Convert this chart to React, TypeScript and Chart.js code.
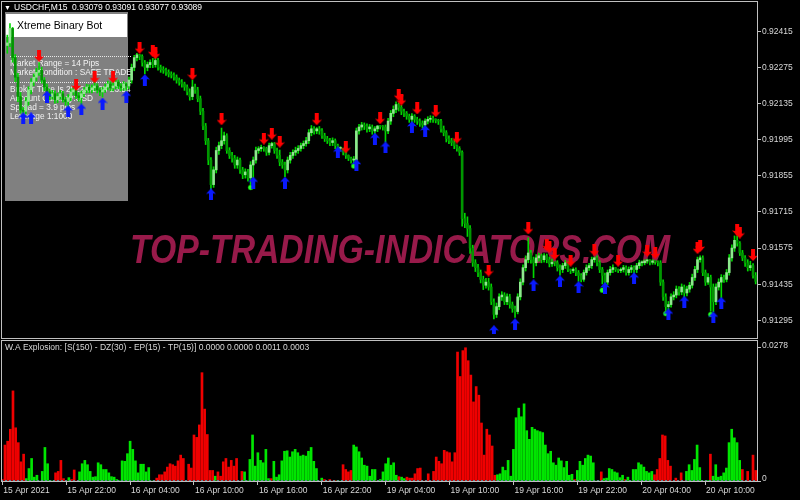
import { useEffect, useRef } from 'react';
import { Chart, registerables } from 'chart.js';

Chart.register(...registerables);

// Prices are stored in points (0.00001) above PRICE_BASE.
const PRICE_BASE = 0.91;
const POINT = 0.00001;
const firstOpen = 1360;

const closes = [
  1370, 1426, 1313, 1237, 1162, 1110, 1105, 1143, 1188, 1218,
  1237, 1256, 1264, 1226, 1199, 1180, 1162, 1173, 1150, 1162,
  1173, 1150, 1143, 1158, 1180, 1188, 1165, 1158, 1173, 1188,
  1199, 1188, 1196, 1203, 1188, 1180, 1188, 1199, 1211, 1196,
  1203, 1218, 1203, 1196, 1211, 1203, 1226, 1275, 1313, 1324,
  1318, 1294, 1275, 1286, 1294, 1286, 1302, 1275, 1267, 1264,
  1256, 1249, 1245, 1237, 1226, 1218, 1211, 1199, 1180, 1162,
  1199, 1188, 1154, 1105, 1048, 991, 916, 821, 878, 953,
  972, 991, 1010, 953, 934, 923, 897, 916, 878, 859,
  870, 847, 897, 916, 953, 960, 965, 961, 946, 972,
  980, 953, 934, 908, 897, 878, 916, 934, 946, 953,
  961, 972, 980, 991, 1022, 1037, 1029, 1037, 1029, 1010,
  999, 991, 984, 991, 972, 961, 961, 946, 934, 923,
  916, 916, 1029, 1044, 1052, 1048, 1037, 1044, 1029, 1037,
  1048, 1046, 1044, 1029, 1067, 1097, 1112, 1131, 1120, 1105,
  1097, 1086, 1074, 1086, 1074, 1067, 1059, 1052, 1067, 1074,
  1078, 1074, 1070, 1067, 1037, 1022, 999, 991, 984, 972,
  961, 946, 689, 670, 651, 575, 518, 499, 480, 454,
  431, 443, 424, 367, 318, 348, 386, 393, 367, 386,
  356, 340, 329, 386, 443, 499, 530, 556, 530, 518,
  537, 545, 530, 545, 530, 514, 520, 518, 499, 492,
  507, 518, 492, 488, 492, 480, 469, 454, 480, 499,
  507, 530, 537, 518, 492, 469, 443, 480, 492, 499,
  492, 488, 492, 499, 480, 492, 499, 492, 507, 518,
  518, 525, 528, 520, 525, 522, 518, 443, 386, 348,
  356, 386, 393, 416, 405, 424, 401, 416, 431, 461,
  492, 530, 537, 480, 443, 461, 424, 367, 424, 443,
  461, 454, 480, 537, 575, 605, 594, 556, 537, 518,
  499, 507, 469, 446,
];

const highs = [
  1400, 1445, 1430, 1325, 1252, 1178, 1120, 1158, 1200, 1232,
  1250, 1272, 1294, 1276, 1236, 1210, 1192, 1186, 1184, 1176,
  1186, 1182, 1160, 1170, 1192, 1200, 1196, 1178, 1184, 1198,
  1210, 1208, 1208, 1218, 1212, 1196, 1198, 1210, 1222, 1219,
  1220, 1228, 1226, 1212, 1220, 1216, 1238, 1288, 1322, 1330,
  1326, 1324, 1302, 1296, 1304, 1310, 1318, 1310, 1284, 1278,
  1272, 1266, 1258, 1254, 1246, 1234, 1228, 1218, 1208, 1192,
  1226, 1210, 1198, 1164, 1116, 1058, 1000, 926, 890, 966,
  986, 1040, 1024, 1018, 964, 946, 934, 928, 924, 888,
  882, 880, 910, 928, 966, 968, 974, 968, 966, 982,
  985, 984, 962, 955, 918, 908, 928, 946, 956, 966,
  972, 982, 990, 1004, 1034, 1050, 1046, 1042, 1046, 1038,
  1020, 1008, 1000, 1002, 998, 978, 968, 962, 948, 936,
  928, 930, 1040, 1054, 1062, 1060, 1056, 1054, 1052, 1046,
  1050, 1050, 1050, 1052, 1078, 1108, 1126, 1142, 1138, 1128,
  1114, 1104, 1094, 1096, 1092, 1082, 1076, 1068, 1076, 1084,
  1088, 1086, 1076, 1074, 1074, 1048, 1030, 1010, 1000, 992,
  975, 968, 952, 710, 696, 662, 586, 530, 512, 490,
  466, 458, 458, 436, 378, 362, 398, 406, 402, 398,
  396, 366, 350, 398, 456, 510, 545, 615, 566, 540,
  550, 556, 552, 554, 552, 540, 532, 522, 526, 510,
  516, 528, 524, 494, 498, 498, 488, 476, 490, 510,
  516, 540, 540, 545, 526, 500, 478, 490, 504, 510,
  500, 494, 498, 508, 506, 502, 508, 506, 516, 528,
  526, 530, 532, 530, 530, 526, 526, 526, 452, 398,
  368, 398, 406, 428, 426, 436, 432, 428, 442, 474,
  504, 540, 545, 545, 490, 476, 470, 436, 436, 456,
  472, 470, 492, 550, 588, 622, 622, 600, 566, 546,
  530, 524, 515, 480,
];

const lows = [
  1330, 1355, 1295, 1220, 1142, 1098, 1095, 1094, 1128, 1172,
  1204, 1222, 1244, 1214, 1184, 1168, 1148, 1152, 1136, 1138,
  1152, 1140, 1128, 1120, 1146, 1168, 1154, 1144, 1130, 1162,
  1176, 1176, 1176, 1184, 1176, 1166, 1160, 1178, 1188, 1184,
  1184, 1192, 1192, 1184, 1186, 1186, 1192, 1214, 1262, 1300,
  1305, 1280, 1250, 1262, 1274, 1274, 1276, 1264, 1256, 1252,
  1244, 1238, 1234, 1226, 1214, 1206, 1198, 1186, 1168, 1148,
  1150, 1174, 1142, 1092, 1034, 976, 898, 800, 810, 866,
  938, 960, 978, 942, 922, 908, 884, 884, 864, 844,
  846, 834, 820, 846, 904, 942, 950, 950, 934, 936,
  962, 942, 922, 894, 884, 852, 866, 904, 922, 934,
  942, 950, 960, 970, 980, 1010, 1016, 1018, 1016, 1000,
  988, 980, 972, 972, 960, 950, 950, 936, 922, 914,
  904, 900, 906, 1016, 1032, 1034, 1024, 1026, 1016, 1010,
  1026, 1036, 1032, 985, 1018, 1054, 1084, 1100, 1106, 1092,
  1084, 1074, 1062, 1056, 1062, 1054, 1046, 1040, 1045, 1056,
  1062, 1062, 1060, 1054, 1024, 1010, 986, 980, 972, 960,
  950, 934, 660, 654, 620, 554, 504, 484, 464, 440,
  414, 420, 412, 356, 300, 306, 336, 372, 356, 356,
  342, 326, 306, 320, 374, 432, 486, 518, 516, 460,
  506, 524, 518, 520, 518, 502, 504, 506, 486, 470,
  480, 496, 484, 476, 480, 468, 446, 444, 446, 470,
  488, 496, 520, 506, 480, 436, 426, 434, 470, 480,
  484, 480, 480, 482, 470, 470, 480, 466, 480, 496,
  506, 510, 516, 510, 512, 512, 506, 430, 372, 318,
  326, 346, 374, 382, 392, 394, 376, 390, 404, 420,
  450, 480, 520, 468, 430, 434, 330, 328, 356, 412,
  382, 442, 444, 470, 524, 562, 582, 546, 526, 504,
  486, 488, 458, 436,
];

// [bar index, price in points]
const sellArrows: [number, number][] = [
  [12, 1320], [26, 1207], [33, 1237], [40, 1237], [50, 1351], [55, 1338], [56, 1330],
  [70, 1249], [81, 1074], [97, 999], [100, 1018], [103, 987], [117, 1074], [128, 965],
  [141, 1078], [148, 1169], [149, 1150], [155, 1116], [162, 1105], [170, 1003], [182, 488],
  [197, 651], [204, 586], [205, 578], [207, 552], [213, 526], [222, 567], [231, 526],
  [242, 564], [245, 556], [261, 575], [262, 583], [276, 645], [277, 635], [282, 548],
];
const buyArrows: [number, number][] = [
  [6, 1078], [9, 1078], [15, 1162], [23, 1105], [28, 1112], [36, 1135], [45, 1162],
  [52, 1226], [77, 783], [93, 829], [105, 829], [125, 946], [132, 897], [139, 999],
  [143, 965], [153, 1044], [158, 1029], [184, 253], [192, 280], [199, 431], [209, 446],
  [216, 424], [226, 420], [237, 458], [250, 318], [256, 367], [267, 306], [270, 363],
];
const signalDots: [number, number][] = [
  [92, 810], [131, 893], [225, 412], [249, 321], [266, 318],
];

const histValues = [
  0.0003, 0.0075, 0.0083, 0.0108, 0.0188, 0.0111, 0.0080, 0.0040, 0.0056, 0.0005,
  0.0026, 0.0047, 0.0008, 0.0012, 0, 0.0020, 0.0070, 0.0036, 0.0001, 0,
  0.0017, 0.0020, 0.0043, 0.0005, 0, 0.0007, 0.0003, 0.0023, 0, 0.0019,
  0.0036, 0.0043, 0.0034, 0.0020, 0.0008, 0.0009, 0.0038, 0.0034, 0.0024, 0.0024,
  0.0017, 0.0009, 0.0008, 0.0003, 0.0001, 0.0042, 0.0041, 0.0057, 0.0083, 0.0066,
  0.0042, 0.0017, 0.0035, 0.0035, 0.0019, 0.0028, 0, 0.0001, 0.0006, 0.0013,
  0.0013, 0.0019, 0.0029, 0.0036, 0.0034, 0.0031, 0.0042, 0.0054, 0.0047, 0,
  0.0035, 0.0027, 0.0096, 0.0091, 0.0117, 0.0226, 0.0150, 0.0097, 0.0022, 0.0022,
  0.0010, 0.0019, 0.0010, 0.0040, 0.0047, 0.0029, 0.0043, 0.0031, 0.0047, 0,
  0.0020, 0.0019, 0.0001, 0.0045, 0.0096, 0.0031, 0.0059, 0.0043, 0.0038, 0.0066,
  0.0005, 0.0005, 0.0041, 0.0008, 0.0013, 0.0042, 0.0062, 0.0063, 0.0050, 0.0061,
  0.0066, 0.0059, 0.0052, 0.0054, 0.0052, 0.0062, 0.0070, 0.0041, 0.0026, 0,
  0.0006, 0.0003, 0, 0.0003, 0, 0.0001, 0.0001, 0, 0.0034, 0.0024,
  0.0019, 0.0022, 0.0075, 0.0071, 0.0061, 0.0048, 0.0033, 0.0031, 0.0010, 0.0024,
  0.0024, 0, 0.0003, 0.0019, 0.0036, 0.0048, 0.0033, 0.0038, 0.0012, 0.0009,
  0.0008, 0.0005, 0.0008, 0.0006, 0.0006, 0.0015, 0.0026, 0.0027, 0, 0,
  0.0015, 0, 0.0020, 0.0050, 0.0041, 0.0036, 0.0064, 0.0061, 0.0059, 0.0040,
  0.0059, 0.0269, 0.0218, 0.0272, 0.0278, 0.0251, 0.0221, 0.0165, 0.0197, 0.0179,
  0.0121, 0.0054, 0.0108, 0.0096, 0.0073, 0.0012, 0.0013, 0.0015, 0.0029, 0.0022,
  0.0043, 0.0010, 0.0066, 0.0132, 0.0152, 0.0134, 0.0161, 0.0105, 0.0087, 0.0112,
  0.0108, 0.0105, 0.0103, 0.0101, 0.0075, 0.0057, 0.0062, 0.0038, 0.0033, 0.0048,
  0.0042, 0.0028, 0.0041, 0.0012, 0.0014, 0.0003, 0.0022, 0.0041, 0.0033, 0.0047,
  0.0054, 0.0052, 0.0038, 0, 0, 0.0019, 0.0005, 0.0006, 0.0026, 0.0024,
  0.0019, 0.0017, 0.0007, 0.0012, 0.0003, 0.0008, 0, 0.0024, 0.0024, 0.0038,
  0.0034, 0.0029, 0.0020, 0.0017, 0.0020, 0.0013, 0.0024, 0.0047, 0.0096, 0.0094,
  0.0043, 0.0031, 0, 0.0006, 0, 0.0017, 0, 0.0020, 0.0034, 0.0022,
  0.0045, 0.0075, 0.0028, 0, 0, 0.0001, 0.0056, 0.0010, 0.0034, 0.0008,
  0.0010, 0.0017, 0.0027, 0.0080, 0.0108, 0.0090, 0.0080, 0.0043, 0.0024, 0,
  0.0020, 0, 0.0054, 0.0022,
];
// r = falling (red) bar, g = rising (green) bar
const histDirection =
  'rrrrrrrrrg' + 'gggggggggg' + 'rrrrrgrrrg' + 'gggggggggg' + 'gggggggggg' +
  'ggggggggrr' + 'rrrrrrrrrr' + 'rrrrrrrrrr' + 'grrrrrrrrr' + 'rggggggggg' +
  'grgggggggg' + 'gggggggggg' + 'grrrrrggrr' + 'rrgggggggg' + 'grgggggggr' +
  'ggrrrrrrrr' + 'rrrrrrrrrr' + 'rrrrrrrrrr' + 'rrrrrrgggg' + 'gggggggggg' +
  'gggggggggg' + 'gggggrgggg' + 'gggggrgggg' + 'ggggrggggg' + 'gggggrrrrr' +
  'rrrrrrrggg' + 'ggggggrggg' + 'ggggggggrr' + 'rrrr';
const deadZoneLevel = 0.0003;

const priceTicks = [0.91295, 0.91435, 0.91575, 0.91715, 0.91855, 0.91995, 0.92135, 0.92275, 0.92415];
const priceAxisLow = 242;
const priceAxisHigh = 1513;
const histTicks = [0, 0.0278];
const histAxisMax = 0.029;
const timeTickLabels = [
  '15 Apr 2021', '15 Apr 22:00', '16 Apr 04:00', '16 Apr 10:00', '16 Apr 16:00', '16 Apr 22:00',
  '19 Apr 04:00', '19 Apr 10:00', '19 Apr 16:00', '19 Apr 22:00', '20 Apr 04:00', '20 Apr 10:00',
];
const BARS_PER_TIME_LABEL = 24;

const symbolHeader = 'USDCHF,M15  0.93079 0.93091 0.93077 0.93089';
const indicatorHeader = 'W.A Explosion: [S(150) - DZ(30) - EP(15) - TP(15)] 0.0000 0.0000 0.0011 0.0003';
const panelTitle = 'Xtreme Binary Bot';
const panelLinesA = ['Market Range = 14 Pips', 'Market Condition : SAFE TRADE'];
const panelLinesB = ['Broker Time Is 2022.01.28 23:54', 'Account Curency:USD', 'Spread = 3.9 pips', 'Leverage 1:1000'];
const watermark = 'TOP-TRADING-INDICATORS.COM';

const toPrice = (p: number) => +(PRICE_BASE + p * POINT).toFixed(5);

const FONT = "'Liberation Sans', Arial, sans-serif";
const AXIS_COLOR = '#c0c0c0';
const LABEL_COLOR = '#d8d8d8';
const WICK = '#00d800';
const BULL = '#8ee88e';
const BEAR = '#009600';
const HIST_RED = '#f00000';
const HIST_GREEN = '#00e600';

function makeArrow(color: string, down: boolean) {
  const c = document.createElement('canvas');
  c.width = 10;
  c.height = 12;
  const g = c.getContext('2d')!;
  if (down) {
    g.translate(0, 12);
    g.scale(1, -1);
  }
  g.fillStyle = color;
  g.beginPath();
  g.moveTo(5, 0);
  g.lineTo(10, 5.5);
  g.lineTo(7, 5);
  g.lineTo(7, 12);
  g.lineTo(3, 12);
  g.lineTo(3, 5);
  g.lineTo(0, 5.5);
  g.closePath();
  g.fill();
  return c;
}

export default function App() {
  const topRef = useRef<HTMLCanvasElement>(null);
  const botRef = useRef<HTMLCanvasElement>(null);

  useEffect(() => {
    const N = closes.length;
    const opens = closes.map((c, i) => (i === 0 ? firstOpen : closes[i - 1]));
    const downImg = makeArrow('#ff0000', true);
    const upImg = makeArrow('#0a1aff', false);

    const topPlugin = {
      id: 'mt4top',
      beforeDatasetsDraw(chart: any) {
        const ctx = chart.ctx as CanvasRenderingContext2D;
        ctx.save();
        // info panel
        ctx.fillStyle = '#808080';
        ctx.fillRect(5, 12, 123, 189);
        ctx.fillStyle = '#ffffff';
        ctx.fillRect(6, 14, 121, 23);
        ctx.fillStyle = '#000000';
        ctx.font = `10.5px ${FONT}`;
        ctx.textBaseline = 'middle';
        ctx.fillText(panelTitle, 17, 26);
        ctx.strokeStyle = '#e8e8e8';
        ctx.setLineDash([1, 1]);
        ctx.lineWidth = 1;
        ctx.beginPath();
        ctx.moveTo(10, 56.5);
        ctx.lineTo(132, 56.5);
        ctx.moveTo(10, 82.5);
        ctx.lineTo(132, 82.5);
        ctx.stroke();
        ctx.setLineDash([]);
        ctx.fillStyle = '#f2f2f2';
        ctx.font = `8.3px ${FONT}`;
        panelLinesA.forEach((t, k) => ctx.fillText(t, 10, 63.5 + k * 8.8));
        panelLinesB.forEach((t, k) => ctx.fillText(t, 10, 90 + k * 8.9));
        // watermark
        ctx.font = `italic bold 41px ${FONT}`;
        const w = ctx.measureText(watermark).width;
        ctx.translate(130, 263);
        ctx.scale(540 / w, 1);
        ctx.fillStyle = 'rgba(165, 28, 80, 0.92)';
        ctx.textBaseline = 'alphabetic';
        ctx.fillText(watermark, 0, 0);
        ctx.restore();
      },
      afterDraw(chart: any) {
        const ctx = chart.ctx as CanvasRenderingContext2D;
        ctx.save();
        ctx.strokeStyle = AXIS_COLOR;
        ctx.lineWidth = 1;
        ctx.strokeRect(1.5, 1.5, 756, 337);
        ctx.fillStyle = '#ffffff';
        ctx.font = `7px ${FONT}`;
        ctx.textBaseline = 'middle';
        ctx.fillText('\u25BC', 4, 8);
        ctx.font = `8.5px ${FONT}`;
        ctx.fillText(symbolHeader, 14, 8);
        ctx.restore();
      },
    };

    const botPlugin = {
      id: 'mt4bot',
      afterDatasetsDraw(chart: any) {
        const ctx = chart.ctx as CanvasRenderingContext2D;
        const y = Math.round(chart.scales.y.getPixelForValue(deadZoneLevel)) + 0.5;
        ctx.save();
        ctx.strokeStyle = '#5a8896';
        ctx.setLineDash([2, 2]);
        ctx.beginPath();
        ctx.moveTo(chart.chartArea.left, y);
        ctx.lineTo(chart.chartArea.right, y);
        ctx.stroke();
        ctx.restore();
      },
      afterDraw(chart: any) {
        const ctx = chart.ctx as CanvasRenderingContext2D;
        ctx.save();
        ctx.strokeStyle = AXIS_COLOR;
        ctx.lineWidth = 1;
        ctx.strokeRect(1.5, 0.5, 756, 141);
        ctx.fillStyle = '#d8d8d8';
        ctx.font = `8.5px ${FONT}`;
        ctx.textBaseline = 'middle';
        ctx.fillText(indicatorHeader, 5, 8);
        ctx.restore();
      },
    };

    const tickFont = { family: FONT, size: 8.5 };

    const top = new Chart(topRef.current!, {
      type: 'bar',
      data: {
        datasets: [
          {
            type: 'line',
            data: sellArrows.map(([i, p]) => ({ x: i, y: toPrice(p) })),
            showLine: false,
            pointStyle: downImg,
            pointRadius: 5,
            order: 0,
          } as any,
          {
            type: 'line',
            data: buyArrows.map(([i, p]) => ({ x: i, y: toPrice(p) })),
            showLine: false,
            pointStyle: upImg,
            pointRadius: 5,
            order: 0,
          } as any,
          {
            type: 'line',
            data: signalDots.map(([i, p]) => ({ x: i, y: toPrice(p) })),
            showLine: false,
            pointStyle: 'circle',
            pointRadius: 2.5,
            pointBackgroundColor: '#22ff22',
            pointBorderColor: '#00a000',
            pointBorderWidth: 0.5,
            order: 0,
          } as any,
          {
            type: 'bar',
            data: opens.map((o, i) => ({ x: i, y: [toPrice(o), toPrice(closes[i])] })),
            backgroundColor: opens.map((o, i) => (closes[i] >= o ? BULL : BEAR)),
            barThickness: 2,
            minBarLength: 1,
            grouped: false,
            order: 1,
          } as any,
          {
            type: 'bar',
            data: lows.map((l, i) => ({ x: i, y: [toPrice(l), toPrice(highs[i])] })),
            backgroundColor: WICK,
            barThickness: 1,
            grouped: false,
            order: 2,
          } as any,
        ],
      },
      options: {
        responsive: false,
        animation: false,
        events: [],
        devicePixelRatio: 1,
        layout: { padding: { left: 1, top: 2, right: 0, bottom: 2 } },
        plugins: { legend: { display: false }, tooltip: { enabled: false } },
        scales: {
          x: { type: 'linear', min: -0.5, max: N - 0.5, display: false, offset: false },
          y: {
            position: 'right',
            min: toPrice(priceAxisLow),
            max: toPrice(priceAxisHigh),
            afterBuildTicks: (s: any) => {
              s.ticks = priceTicks.map((v) => ({ value: v }));
            },
            afterFit: (s: any) => {
              s.width = 43;
              s.paddingTop = 0;
              s.paddingBottom = 0;
            },
            grid: { drawOnChartArea: false, drawTicks: true, tickLength: 4, color: AXIS_COLOR },
            border: { display: false },
            ticks: {
              color: LABEL_COLOR,
              font: tickFont,
              padding: 1,
              autoSkip: false,
              callback: (v: any) => Number(v).toFixed(5),
            },
          },
        },
      } as any,
      plugins: [topPlugin],
    });

    const bot = new Chart(botRef.current!, {
      type: 'bar',
      data: {
        datasets: [
          {
            data: histValues.map((v, i) => ({ x: i, y: v })),
            backgroundColor: histDirection.split('').map((d) => (d === 'r' ? HIST_RED : HIST_GREEN)),
            barThickness: 2,
            grouped: false,
          } as any,
        ],
      },
      options: {
        responsive: false,
        animation: false,
        events: [],
        devicePixelRatio: 1,
        layout: { padding: { left: 1, top: 2, right: 0, bottom: 0 } },
        plugins: { legend: { display: false }, tooltip: { enabled: false } },
        scales: {
          x: {
            type: 'linear',
            min: -0.5,
            max: N - 0.5,
            offset: false,
            afterBuildTicks: (s: any) => {
              s.ticks = timeTickLabels.map((_, k) => ({ value: k * BARS_PER_TIME_LABEL }));
            },
            afterFit: (s: any) => {
              s.height = 19;
              s.paddingLeft = 0;
              s.paddingRight = 0;
            },
            grid: { drawOnChartArea: false, drawTicks: true, tickLength: 4, color: AXIS_COLOR, offset: false },
            border: { display: false },
            ticks: {
              align: 'start',
              maxRotation: 0,
              autoSkip: false,
              color: LABEL_COLOR,
              font: tickFont,
              padding: 1,
              labelOffset: 1,
              callback: (v: any) => timeTickLabels[Math.round(Number(v) / BARS_PER_TIME_LABEL)],
            },
          },
          y: {
            position: 'right',
            min: 0,
            max: histAxisMax,
            afterBuildTicks: (s: any) => {
              s.ticks = histTicks.map((v) => ({ value: v }));
            },
            afterFit: (s: any) => {
              s.width = 43;
              s.paddingTop = 0;
              s.paddingBottom = 0;
            },
            grid: { drawOnChartArea: false, drawTicks: true, tickLength: 4, color: AXIS_COLOR },
            border: { display: false },
            ticks: {
              color: LABEL_COLOR,
              font: tickFont,
              padding: 1,
              autoSkip: false,
              labelOffset: -2,
              callback: (v: any) => (Number(v) === 0 ? '0' : Number(v).toFixed(4)),
            },
          },
        },
      } as any,
      plugins: [botPlugin],
    });

    return () => {
      top.destroy();
      bot.destroy();
    };
  }, []);

  return (
    <div
      style={{
        position: 'fixed',
        left: 0,
        top: 0,
        width: 800,
        height: 500,
        background: '#000000',
        overflow: 'hidden',
      }}
    >
      <canvas ref={topRef} width={800} height={340} style={{ position: 'absolute', left: 0, top: 0, display: 'block' }} />
      <canvas ref={botRef} width={800} height={160} style={{ position: 'absolute', left: 0, top: 340, display: 'block' }} />
    </div>
  );
}
